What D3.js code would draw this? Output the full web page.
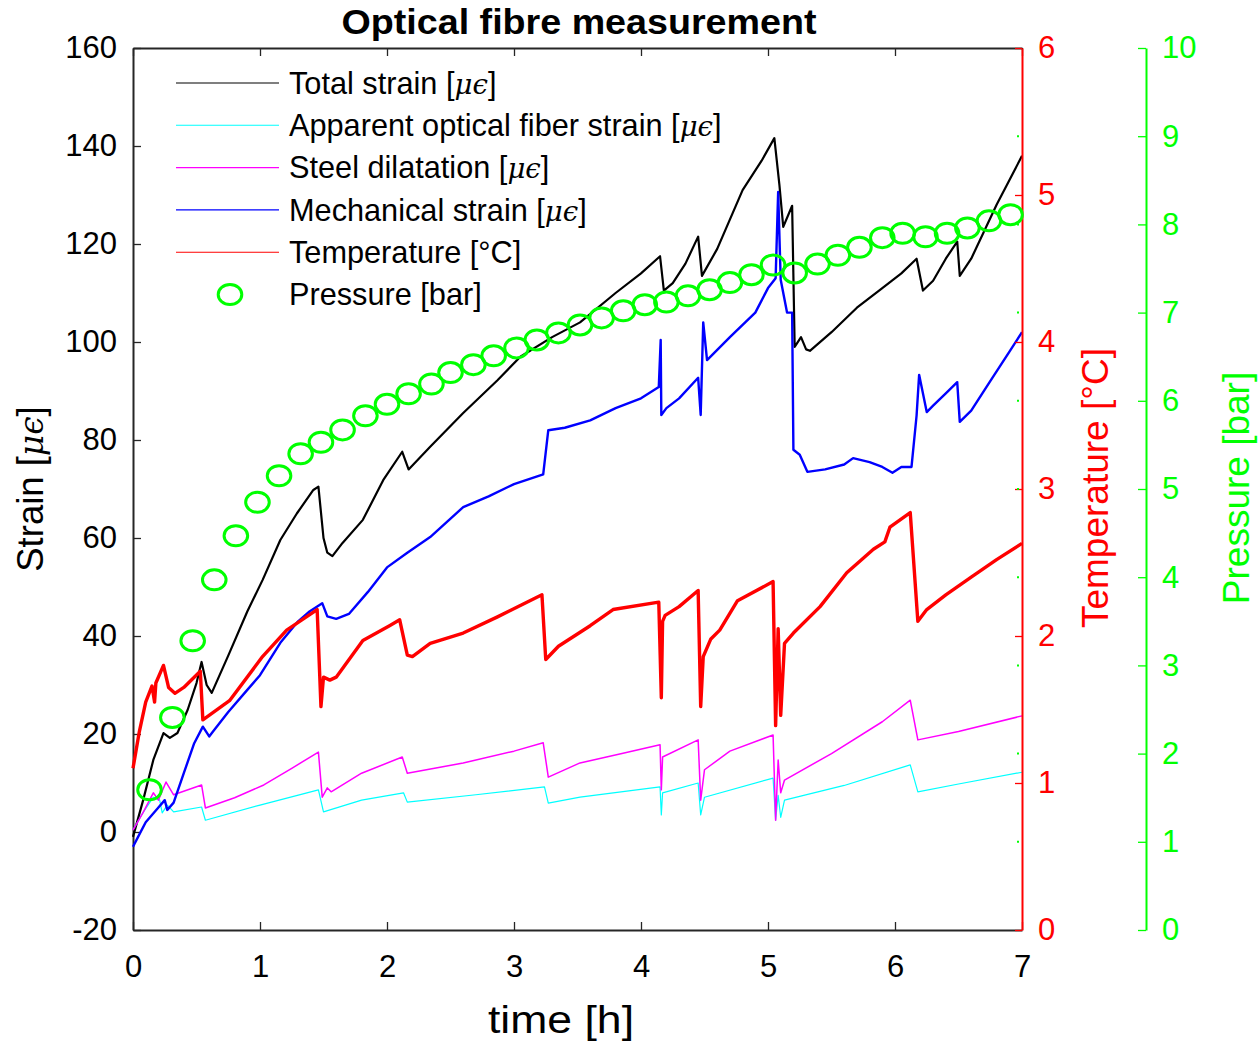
<!DOCTYPE html>
<html>
<head>
<meta charset="utf-8">
<script src="https://cdn.jsdelivr.net/npm/d3@7"></script>
<style>
body{margin:0;background:#fff;}
svg text{font-family:"Liberation Sans",Arial,sans-serif;}
</style>
</head>
<body>
<svg id="chart" width="1258" height="1041"></svg>
<script>
// values, [time h, value]
const totalStrain=[[0,-1],[0.08,6.5],[0.16,14.7],[0.24,20.2],[0.29,19.2],[0.35,20.2],[0.43,24.9],[0.5,30.4],[0.54,34.7],[0.58,30],[0.62,28.4],[0.75,36],[0.9,45],[1.02,51.4],[1.16,59.6],[1.29,65],[1.42,69.8],[1.46,70.5],[1.5,60],[1.53,57],[1.57,56.3],[1.65,59],[1.81,63.7],[1.97,71.8],[2.12,77.6],[2.17,74],[2.34,78.6],[2.6,85.5],[2.87,92.2],[3.05,97],[3.3,101],[3.52,104],[3.8,110],[4.0,114],[4.15,117.5],[4.18,110.5],[4.25,112],[4.35,116],[4.45,121.5],[4.48,113.5],[4.6,119],[4.8,131],[4.95,137],[5.05,141.6],[5.09,132],[5.12,123.5],[5.19,127.8],[5.21,99],[5.26,101],[5.3,98.5],[5.33,98.2],[5.5,102],[5.7,107],[5.9,111],[6.05,114],[6.17,117],[6.22,110.5],[6.3,112.5],[6.4,117],[6.49,120.5],[6.51,113.5],[6.6,117],[6.8,128],[7.0,138]];
const apparentStrain=[[0,0.4],[0.08,4],[0.16,7.1],[0.21,6.5],[0.23,3.9],[0.27,5.5],[0.32,4.1],[0.54,5.1],[0.57,2.4],[1.0,5.5],[1.46,8.6],[1.5,4.1],[1.8,6.5],[2.13,8],[2.16,6.1],[2.7,7.6],[3.24,9.2],[3.27,5.9],[3.52,7.1],[4.15,9.2],[4.16,3.5],[4.17,8],[4.45,10],[4.47,3.5],[4.5,7.1],[5.04,11],[5.06,2.4],[5.08,7.5],[5.1,3],[5.13,6.5],[5.6,9.5],[6.12,13.7],[6.18,8.2],[6.5,9.8],[7.0,12.2]];
const steelDilatation=[[0,0.4],[0.08,4],[0.16,8],[0.2,6.5],[0.26,10.2],[0.32,7.6],[0.54,9.6],[0.57,4.9],[0.8,7],[1.03,9.6],[1.25,13],[1.46,16.3],[1.49,7.1],[1.53,9],[1.56,8.2],[1.8,12],[2.12,15.3],[2.16,12],[2.6,14.1],[3.0,16.5],[3.23,18.2],[3.27,11.2],[3.52,14.1],[3.85,16],[4.15,17.8],[4.16,8.6],[4.17,15.3],[4.45,18.8],[4.47,6.5],[4.5,12.7],[4.7,16.5],[5.04,19.8],[5.06,2.4],[5.08,14.7],[5.1,8],[5.13,10.6],[5.5,16],[5.9,22.5],[6.12,26.9],[6.18,18.8],[6.5,20.5],[7.0,23.7]];
const mechStrain=[[0,-3],[0.04,-1],[0.1,2],[0.2,5],[0.25,6.5],[0.27,4.5],[0.32,6],[0.4,12],[0.48,18],[0.55,21.5],[0.6,19.5],[0.63,20.5],[0.75,24.5],[0.9,29],[1.0,32],[1.16,38.6],[1.3,43],[1.39,45],[1.49,46.7],[1.53,44],[1.6,43.5],[1.7,44.5],[1.85,49],[2.0,54],[2.16,57],[2.34,60.2],[2.6,66.3],[2.8,68.5],[3.0,71],[3.23,73],[3.27,82],[3.4,82.5],[3.6,84],[3.8,86.5],[4.0,88.5],[4.14,90.8],[4.155,100.4],[4.16,85.1],[4.2,86.5],[4.3,88.5],[4.45,92.7],[4.47,85.1],[4.49,104],[4.52,96.3],[4.7,101],[4.9,106],[5.0,111],[5.06,113],[5.08,130.6],[5.1,112.7],[5.15,106],[5.19,106],[5.2,78],[5.25,77],[5.31,73.5],[5.45,74],[5.6,75],[5.67,76.3],[5.8,75.5],[5.9,74.5],[5.98,73.3],[6.05,74.5],[6.13,74.5],[6.17,85],[6.19,93.3],[6.25,85.7],[6.3,87],[6.4,89.5],[6.49,91.8],[6.51,83.7],[6.6,86],[6.75,92],[6.9,98],[7.0,102]];
const temperature=[[0,1.1],[0.05,1.35],[0.1,1.55],[0.15,1.66],[0.17,1.55],[0.18,1.68],[0.24,1.8],[0.28,1.65],[0.33,1.61],[0.4,1.65],[0.53,1.76],[0.55,1.43],[0.76,1.56],[1.02,1.86],[1.21,2.04],[1.45,2.18],[1.48,1.52],[1.5,1.72],[1.55,1.7],[1.6,1.72],[1.81,1.97],[2.02,2.07],[2.1,2.11],[2.16,1.87],[2.2,1.86],[2.34,1.95],[2.6,2.02],[2.87,2.13],[3.22,2.28],[3.25,1.84],[3.35,1.93],[3.6,2.07],[3.78,2.18],[4.14,2.23],[4.16,1.58],[4.17,2.1],[4.19,2.14],[4.3,2.2],[4.45,2.31],[4.47,1.52],[4.49,1.86],[4.55,1.98],[4.62,2.04],[4.76,2.24],[5.04,2.37],[5.06,1.39],[5.08,2.05],[5.1,1.46],[5.13,1.95],[5.2,2.02],[5.41,2.2],[5.62,2.43],[5.83,2.59],[5.92,2.64],[5.96,2.74],[6.12,2.84],[6.18,2.1],[6.25,2.18],[6.4,2.28],[6.6,2.4],[6.8,2.52],[7.0,2.63]];
const pressure=[[0.13,1.59],[0.31,2.41],[0.47,3.28],[0.64,3.97],[0.81,4.47],[0.98,4.85],[1.15,5.15],[1.32,5.4],[1.48,5.53],[1.65,5.67],[1.83,5.83],[2.0,5.96],[2.17,6.08],[2.35,6.19],[2.5,6.32],[2.68,6.41],[2.84,6.51],[3.02,6.6],[3.18,6.69],[3.35,6.77],[3.52,6.86],[3.69,6.94],[3.86,7.02],[4.03,7.09],[4.2,7.12],[4.37,7.19],[4.54,7.26],[4.7,7.34],[4.87,7.43],[5.04,7.54],[5.21,7.45],[5.39,7.55],[5.55,7.65],[5.72,7.74],[5.9,7.85],[6.06,7.9],[6.24,7.86],[6.41,7.9],[6.57,7.96],[6.74,8.04],[6.91,8.11]];

const timeTicks=[0,1,2,3,4,5,6,7];
const strainTicks=[-20,0,20,40,60,80,100,120,140,160];
const tempTicks=[0,1,2,3,4,5,6];
const pressTicks=[0,1,2,3,4,5,6,7,8,9,10];
const legendLabels=["Total strain [μϵ]","Apparent optical fiber strain [μϵ]","Steel dilatation [μϵ]","Mechanical strain [μϵ]","Temperature [°C]","Pressure [bar]"];

const plotLeft=133,plotRight=1022,plotTop=48,plotBottom=930,pressX=1146;
const axisColor="#262626";

let svg=d3.select("#chart");
let x=d3.scaleLinear().domain([0,7]).range([plotLeft,plotRight]);
let yS=d3.scaleLinear().domain([-20,160]).range([plotBottom,plotTop]);
let yT=d3.scaleLinear().domain([0,6]).range([plotBottom,plotTop]);
let yP=d3.scaleLinear().domain([0,10]).range([plotBottom,plotTop]);

/**
 * write a label, the μϵ part in italic serif like the LaTeX one
 */
function addLabel(sel,txt){
    let parts=txt.split("μϵ");
    sel.append("tspan").text(parts[0]);
    if(parts.length>1){
        sel.append("tspan").attr("font-family","DejaVu Serif").attr("font-style","italic")
        .attr("font-size","0.9em").text("μϵ");
        sel.append("tspan").text(parts[1]);
    }
}

function drawSeries(data,scale,color,width){
    let line=d3.line()
    .x(function(d){return x(d[0]);})
    .y(function(d){return scale(d[1]);});
    svg.append("path")
    .datum(data)
    .attr("fill","none")
    .attr("stroke",color)
    .attr("stroke-width",width)
    .attr("stroke-linejoin","round")
    .attr("d",line);
}

function styleAxis(g,color,fontSize){
    g.attr("font-family","Liberation Sans").attr("font-size",fontSize).attr("color",color);
    g.select(".domain").attr("stroke-width",2);
    g.selectAll(".tick line").attr("stroke-width",1.3);
}

// axes of the strain box
let gBottom=svg.append("g").attr("transform","translate(0,"+plotBottom+")")
.call(d3.axisBottom(x).tickValues(timeTicks).tickSize(-8).tickSizeOuter(0).tickPadding(25)
.tickFormat(function(d){return String(d);}));
styleAxis(gBottom,axisColor,31);
gBottom.selectAll("text").attr("fill","#000");

let gTop=svg.append("g").attr("transform","translate(0,"+plotTop+")")
.call(d3.axisTop(x).tickValues(timeTicks).tickSize(-8).tickSizeOuter(0).tickFormat(function(){return "";}));
styleAxis(gTop,axisColor,31);

let gLeft=svg.append("g").attr("transform","translate("+plotLeft+",0)")
.call(d3.axisLeft(yS).tickValues(strainTicks).tickSize(-8).tickSizeOuter(0).tickPadding(16)
.tickFormat(function(d){return String(d);}));
styleAxis(gLeft,axisColor,31);
gLeft.selectAll("text").attr("fill","#000");

// series
drawSeries(totalStrain,yS,"#000000",2.2);
drawSeries(apparentStrain,yS,"#00ffff",1.2);
drawSeries(steelDilatation,yS,"#ff00ff",1.5);
drawSeries(mechStrain,yS,"#0000ff",2.4);
drawSeries(temperature,yT,"#ff0000",3.4);

// temperature axis
let gTemp=svg.append("g").attr("transform","translate("+plotRight+",0)")
.call(d3.axisRight(yT).tickValues(tempTicks).tickSize(-7).tickSizeOuter(0).tickPadding(16)
.tickFormat(function(d){return String(d);}));
styleAxis(gTemp,"#ff0000",31);

// small marks of the pressure box on the right edge
svg.append("g").selectAll("line")
.data(pressTicks.slice(1,-1))
.enter()
.append("line")
.attr("x1",plotRight-5).attr("x2",plotRight-3)
.attr("y1",function(d){return yP(d);}).attr("y2",function(d){return yP(d);})
.attr("stroke","#00ff00").attr("stroke-width",2);

// pressure axis
let gPress=svg.append("g").attr("transform","translate("+pressX+",0)")
.call(d3.axisRight(yP).tickValues(pressTicks).tickSize(-8).tickSizeOuter(0).tickPadding(16)
.tickFormat(function(d){return String(d);}));
styleAxis(gPress,"#00ff00",31);

// pressure circles
svg.append("g").selectAll("ellipse")
.data(pressure)
.enter()
.append("ellipse")
.attr("cx",function(d){return x(d[0]);})
.attr("cy",function(d){return yP(d[1]);})
.attr("rx",11.8).attr("ry",10)
.attr("fill","none").attr("stroke","#00ff00").attr("stroke-width",3);

// legend
const legendColors=["#000000","#00ffff","#ff00ff","#0000ff","#ff0000","#00ff00"];
let leg=svg.append("g");
legendLabels.forEach(function(lab,i){
    let cy=83+i*42.3;
    if(i<5){
        leg.append("line").attr("x1",176).attr("x2",279).attr("y1",cy).attr("y2",cy)
        .attr("stroke",legendColors[i]).attr("stroke-width",1.1);
    }else{
        leg.append("ellipse").attr("cx",230).attr("cy",cy).attr("rx",11.8).attr("ry",10)
        .attr("fill","none").attr("stroke","#00ff00").attr("stroke-width",3);
    }
    let t=leg.append("text").attr("x",289).attr("y",cy).attr("dy","0.35em")
    .attr("font-size",30.7).attr("fill","#000");
    addLabel(t,lab);
});

// titles
svg.append("text").attr("x",579).attr("y",34).attr("text-anchor","middle")
.attr("font-size",35).attr("font-weight","bold").attr("textLength",475)
.attr("lengthAdjust","spacingAndGlyphs").text("Optical fibre measurement");

svg.append("text").attr("x",561).attr("y",1033).attr("text-anchor","middle")
.attr("font-size",39).attr("textLength",146).attr("lengthAdjust","spacingAndGlyphs")
.text("time [h]");

let yl=svg.append("text").attr("transform","translate(43,489) rotate(-90)")
.attr("text-anchor","middle").attr("font-size",36.5).attr("fill","#000");
addLabel(yl,"Strain [μϵ]");

svg.append("text").attr("transform","translate(1108,488) rotate(-90)")
.attr("text-anchor","middle").attr("font-size",37).attr("fill","#ff0000")
.text("Temperature [°C]");

svg.append("text").attr("transform","translate(1249,488) rotate(-90)")
.attr("text-anchor","middle").attr("font-size",37).attr("fill","#00ff00")
.text("Pressure [bar]");
</script>
</body>
</html>
